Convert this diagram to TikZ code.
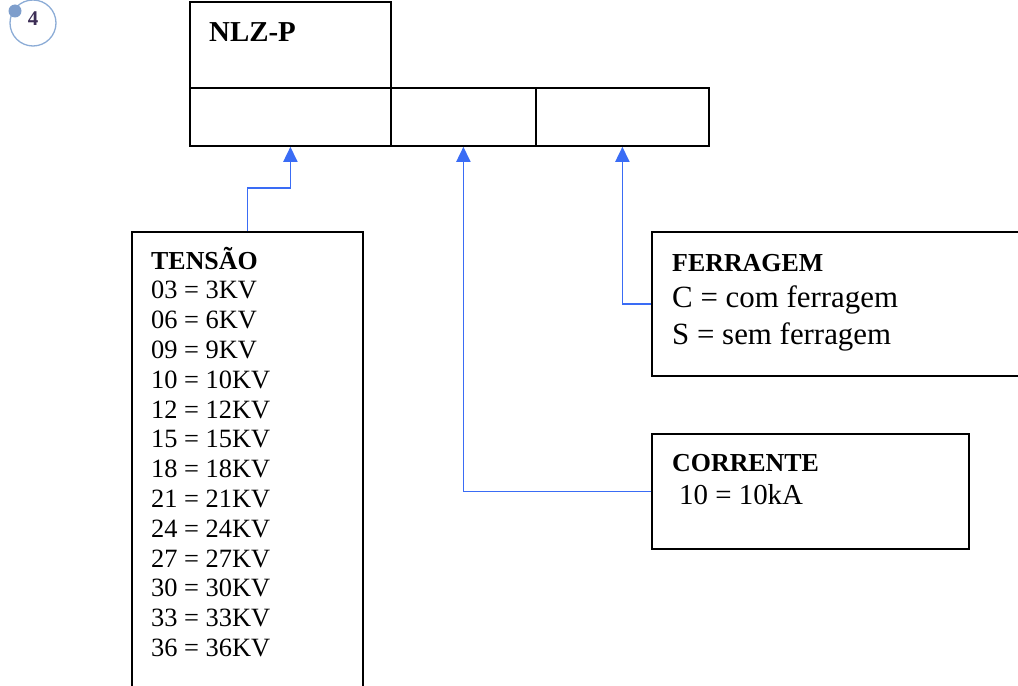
\documentclass[tikz,border=0pt]{standalone}
\usepackage{fontspec}
\setmainfont{Liberation Serif}
\usetikzlibrary{arrows.meta}
\definecolor{arrowblue}{RGB}{58,108,245}
\definecolor{ringblue}{RGB}{140,172,214}
\definecolor{dotblue}{RGB}{126,158,204}
\definecolor{numcol}{RGB}{60,45,85}
\begin{document}
\begin{tikzpicture}[x=1bp,y=-1bp,
  box/.style={draw=black,line width=1.8bp,rectangle,inner sep=0pt,anchor=north west},
  conn/.style={draw=arrowblue,line width=1.8bp,-{Triangle[width=14bp,length=15bp]}},
  txt/.style={anchor=base west,inner sep=0pt},
  hdr/.style={txt,font=\bfseries\fontsize{26}{26}\selectfont},
  lst/.style={txt,font=\fontsize{26.5}{26.5}\selectfont}]
\useasboundingbox (0,0) rectangle (1018,686);
\clip (0,0) rectangle (1018,686);
% page number badge
\node[circle,draw=ringblue,line width=1.3bp,minimum size=46bp,inner sep=0pt] (ring) at (33,23) {};
\node[circle,fill=dotblue,minimum size=13bp,inner sep=0pt] (dot) at (15,11) {};
\node[text=numcol,font=\bfseries\fontsize{21}{21}\selectfont,inner sep=0pt] (num) at (33,19) {4};
% code boxes
\node[box,minimum width=201bp,minimum height=86bp] (head) at (189,1) {};
\node[box,minimum width=201bp,minimum height=58bp] (c1) at (189,87) {};
\node[box,minimum width=145bp,minimum height=58bp] (c2) at (390,87) {};
\node[box,minimum width=173bp,minimum height=58bp] (c3) at (535,87) {};
\node[txt,font=\bfseries\fontsize{29}{29}\selectfont] (nlz) at (209,42) {NLZ-P};
% description boxes
\node[box,minimum width=231bp,minimum height=480bp] (tensao) at (131,231) {};
\node[box,minimum width=380bp,minimum height=144bp] (ferragem) at (651,231) {};
\node[box,minimum width=317bp,minimum height=115bp] (corrente) at (651,433) {};
% TENSAO text
\node[hdr] (th) at (151,269) {TENSÃO};
\foreach \a/\b [count=\i] in {03/3,06/6,09/9,10/10,12/12,15/15,18/18,21/21,24/24,27/27,30/30,33/33,36/36}
  \node[lst] (t\i) at (151,{269+29.8*\i}) {\a{} = \b KV};
% FERRAGEM text
\node[hdr] (fh) at (672,271) {FERRAGEM};
\node[txt,font=\fontsize{31}{31}\selectfont] (f1) at (672,307.5) {C = com ferragem};
\node[txt,font=\fontsize{31}{31}\selectfont] (f2) at (672,344) {S = sem ferragem};
% CORRENTE text
\node[hdr] (ch) at (672,471) {CORRENTE};
\node[txt,font=\fontsize{29}{29}\selectfont] (c1t) at (679,504) {10 = 10kA};
% connectors
\draw[conn] (tensao.north) -- ++(0,-43) -| (c1.south);
\draw[conn] (corrente.west) -| (c2.south);
\draw[conn] (ferragem.west) -| (c3.south);
\end{tikzpicture}
\end{document}
